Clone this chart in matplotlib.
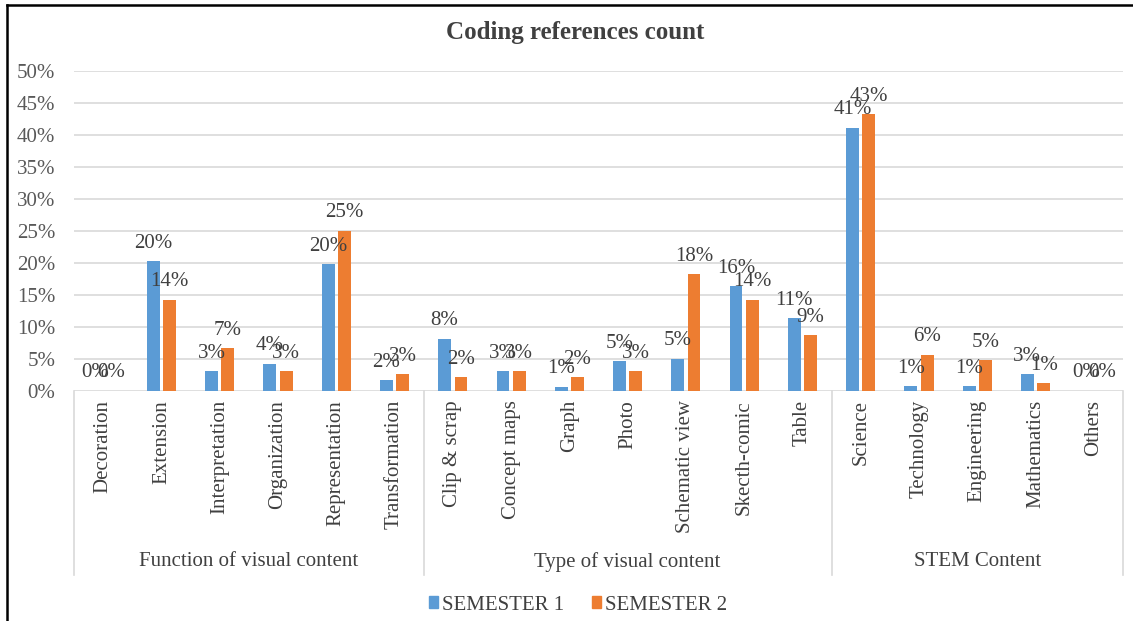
import matplotlib.pyplot as plt
from matplotlib.lines import Line2D
from matplotlib.patches import Patch
import numpy as np

# categories and groups
categories = ['Decoration', 'Extension', 'Interpretation', 'Organization', 'Representation',
              'Transformation', 'Clip & scrap', 'Concept maps', 'Graph', 'Photo',
              'Schematic view', 'Skecth-comic', 'Table', 'Science', 'Technology',
              'Engineering', 'Mathematics', 'Others']
groups = ['Function of visual content', 'Type of visual content', 'STEM Content']
group_sizes = [6, 7, 5]

# values in percent
semester1 = [0, 20.2, 3.0, 4.2, 19.8, 1.6, 8.1, 3.0, 0.6, 4.6, 5.0, 16.3, 11.3, 41.1, 0.7, 0.7, 2.6, 0]
semester2 = [0, 14.2, 6.6, 3.0, 25.0, 2.6, 2.1, 3.0, 2.1, 3.0, 18.2, 14.2, 8.6, 43.2, 5.6, 4.8, 1.2, 0]
yticks = [0, 5, 10, 15, 20, 25, 30, 35, 40, 45, 50]

plt.rcParams['font.family'] = ['Liberation Serif', 'DejaVu Serif']

W, H = 1133, 621
fig = plt.figure(figsize=(W / 100, H / 100), dpi=100)
x0, x1, ytop, ybot = 74, 1123, 70.7, 390.5
ax = fig.add_axes([x0 / W, 1 - ybot / H, (x1 - x0) / W, (ybot - ytop) / H])

blue = '#5B9BD5'
orange = '#ED7D31'
txt = '#404040'
grid = '#D9D9D9'

x = np.arange(len(categories))
w = 0.22
off = 0.14
b1 = ax.bar(x - off, semester1, w, color=blue, zorder=3)
b2 = ax.bar(x + off, semester2, w, color=orange, zorder=3)

# data labels
for bars, vals in ((b1, semester1), (b2, semester2)):
    for rect, v in zip(bars, vals):
        ax.annotate('%.0f%%' % v, (rect.get_x() + rect.get_width() / 2, v),
                    xytext=(0, 9.5), textcoords='offset points', ha='center',
                    va='baseline', fontsize=15, color=txt, zorder=5)

ax.set_xlim(-0.5, len(categories) - 0.5)
ax.set_ylim(0, 50)
ax.set_yticks(yticks)
ax.set_yticklabels(['%d%%' % t for t in yticks])
ax.tick_params(axis='y', length=0, pad=13.5, labelsize=15, labelcolor='#595959')
ax.set_xticks([])
for s in ax.spines.values():
    s.set_visible(False)
ax.yaxis.grid(True, color=grid, linewidth=1.2, zorder=0)
ax.set_axisbelow(True)

# category labels
tr = ax.get_xaxis_transform()
for i, c in enumerate(categories):
    ax.text(i, -0.03, c, transform=tr, rotation=90, ha='center', va='top',
            fontsize=15, color=txt)

# group dividers and labels
edges = np.concatenate([[0], np.cumsum(group_sizes)]) - 0.5
ybottom = -(575 - ybot) / (ybot - ytop)
for e in edges:
    ax.plot([e, e], [0, ybottom], transform=tr, color=grid, lw=1.2, clip_on=False)
ygroup = -(562 - ybot) / (ybot - ytop)
for g, a, b in zip(groups, edges[:-1], edges[1:]):
    ax.text((a + b) / 2, ygroup, g, transform=tr, ha='center', va='center',
            fontsize=15, color=txt)

# title
fig.text(575 / W, 1 - 32 / H, 'Coding references count', ha='center', va='center',
         fontsize=18, fontweight='bold', color=txt)

# legend
handles = [Patch(color=blue, label='SEMESTER 1'), Patch(color=orange, label='SEMESTER 2')]
fig.legend(handles=handles, loc='center', bbox_to_anchor=(578 / W, 1 - 605 / H), ncol=2,
           frameon=False, fontsize=15, handlelength=0.45, handleheight=0.45,
           handletextpad=0.2, columnspacing=1.3, labelcolor=txt)

# outer frame (left and top edges visible)
fig.add_artist(Line2D([7 / W, 7 / W], [0, 1 - 5 / H], color='black', lw=1.8))
fig.add_artist(Line2D([7 / W, 1], [1 - 5 / H, 1 - 5 / H], color='black', lw=1.8))

fig.savefig('out.png', dpi=100)
